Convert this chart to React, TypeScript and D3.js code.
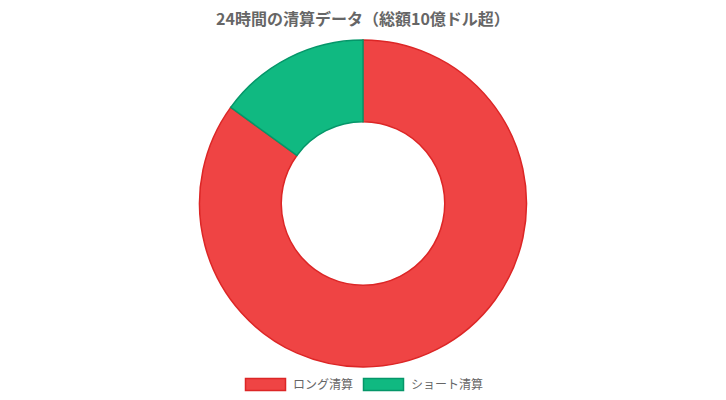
import React from "react";
import * as d3 from "d3";

const labels = ["ロング清算", "ショート清算"];
const values = [8.5, 1.5];
const fills = ["#ef4444", "#10b981"];
const strokes = ["#dc2626", "#059669"];
const title = "24時間の清算データ（総額10億ドル超）";

const W = 726;
const H = 400;
const FONT = "'Noto Sans CJK JP', 'Noto Sans', sans-serif";

export default function App() {
  const cx = 363;
  const cy = 203.5;
  const outer = 163.5;
  const inner = outer * 0.5;

  const pie = d3.pie<number>().sort(null).value(d => d);
  const arcs = pie(values);
  const arc = d3.arc<d3.PieArcDatum<number>>().innerRadius(inner).outerRadius(outer);

  // legend layout
  const boxW = 40;
  const boxH = 12;
  const itemX = [245, 363];

  return (
    <svg width={W} height={H} style={{ display: "block", position: "absolute", left: 0, top: 0 }}>
      <text x={cx} y={25} textAnchor="middle" fontFamily={FONT} fontSize={16} fontWeight="bold" fill="#666">
        {title}
      </text>
      <g transform={`translate(${cx},${cy})`}>
        {arcs.map((a, i) => (
          <path key={i} d={arc(a) ?? ""} fill={fills[i]} stroke={strokes[i]} strokeWidth={1.5} />
        ))}
      </g>
      <g>
        {labels.map((l, i) => (
          <g key={l} transform={`translate(${itemX[i]},378)`}>
            <rect x={0.5} y={0.5} width={boxW} height={boxH} fill={fills[i]} stroke={strokes[i]} strokeWidth={1.5} />
            <text x={boxW + 8} y={11} fontFamily={FONT} fontSize={12} fill="#666">
              {l}
            </text>
          </g>
        ))}
      </g>
    </svg>
  );
}
